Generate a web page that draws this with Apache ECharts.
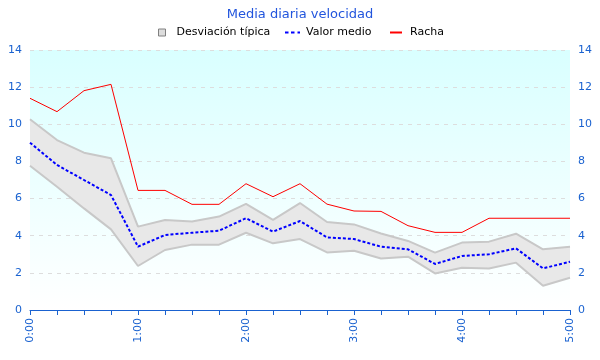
<!DOCTYPE html>
<html><head><meta charset="utf-8">
<script src="https://cdn.jsdelivr.net/npm/echarts@6/dist/echarts.min.js"></script>
<style>html,body{margin:0;padding:0;background:#fff}#c{width:600px;height:360px}</style>
</head><body><div id="c"></div>
<script>
const times = ["0:00","0:15","0:30","0:45","1:00","1:15","1:30","1:45","2:00","2:15","2:30","2:45","3:00","3:15","3:30","3:45","4:00","4:15","4:30","4:45","5:00"];
const upper = [10.27,9.15,8.47,8.17,4.49,4.85,4.76,5.03,5.71,4.85,5.76,4.74,4.61,4.12,3.72,3.09,3.63,3.68,4.11,3.27,3.41];
const mean  = [9.01,7.81,7.0,6.19,3.41,4.04,4.16,4.27,4.94,4.22,4.79,3.91,3.82,3.41,3.27,2.48,2.91,3.0,3.32,2.24,2.60];
const lower = [7.77,6.64,5.47,4.34,2.37,3.23,3.52,3.52,4.16,3.59,3.82,3.10,3.19,2.77,2.87,1.97,2.28,2.23,2.55,1.31,1.74];
const gust  = [11.4,10.68,11.81,12.15,6.44,6.44,5.69,5.69,6.80,6.10,6.80,5.7,5.33,5.31,4.54,4.18,4.18,4.94,4.94,4.94,4.94];
const yTicks = [0,2,4,6,8,10,12,14];

const bandWidth = upper.map((u,i)=>+(u-lower[i]).toFixed(3));
const blue = '#1a62d0';
const font = 'DejaVu Sans';
const chart = echarts.init(document.getElementById('c'));
const yAxisBase = {
  type:'value', min:yTicks[0], max:yTicks[yTicks.length-1], interval:2,
  axisLine:{show:false}, axisTick:{show:false},
  axisLabel:{color:blue, fontFamily:font, fontSize:11}
};
const legendText = {fontFamily:font, fontSize:11, color:'#000'};
chart.setOption({
  animation:false,
  title:{text:'Media diaria velocidad', left:'center', top:3,
    textStyle:{color:'#2255dd', fontFamily:font, fontSize:13, fontWeight:'normal'}},
  legend:[
    {left:158, top:27, padding:0, itemWidth:7, itemHeight:7,
      textStyle:Object.assign({padding:[0,0,0,6]}, legendText),
      data:[{name:'Desviación típica', icon:'rect', itemStyle:{color:'#dddddd', borderColor:'#808080', borderWidth:1}}]},
    {left:285, top:27, padding:0, itemWidth:15, itemHeight:2, textStyle:Object.assign({padding:[0,0,0,1]}, legendText),
      data:[{name:'Valor medio', icon:'path://M0,0 L3.5,0 L3.5,2 L0,2 Z M6,0 L9.5,0 L9.5,2 L6,2 Z M12.5,0 L15,0 L15,2 L12.5,2 Z', itemStyle:{color:'#0000ff'}}]},
    {left:390, top:27, padding:0, itemWidth:12, itemHeight:2, textStyle:Object.assign({padding:[0,0,0,3]}, legendText),
      data:[{name:'Racha', icon:'rect', itemStyle:{color:'#ff0000'}}]}
  ],
  grid:{left:30, right:30, top:50, bottom:50, show:true, borderWidth:0,
    backgroundColor:new echarts.graphic.LinearGradient(0,0,0,1,[{offset:0,color:'#d9ffff'},{offset:1,color:'#ffffff'}])},
  xAxis:{type:'category', data:times, boundaryGap:false,
    axisLine:{lineStyle:{color:blue, width:1}},
    axisTick:{interval:0, length:5, lineStyle:{color:blue}},
    axisLabel:{interval:3, rotate:90, color:blue, fontFamily:font, fontSize:11, margin:8},
    splitLine:{show:false}},
  yAxis:[
    Object.assign({}, yAxisBase, {position:'left', splitLine:{show:true, lineStyle:{color:'#dddddd', type:[4,5]}}}),
    Object.assign({}, yAxisBase, {position:'right', splitLine:{show:false}})
  ],
  series:[
    {name:'lowerBand', type:'line', data:lower, stack:'band', symbol:'none',
      lineStyle:{color:'#c8c8c8', width:2}, z:1, silent:true},
    {name:'Desviación típica', type:'line', data:bandWidth, stack:'band', symbol:'none',
      lineStyle:{color:'#c8c8c8', width:2}, areaStyle:{color:'#e8e8e8', opacity:1}, z:1},
    {name:'Racha', type:'line', data:gust, symbol:'none', lineStyle:{color:'#ff0000', width:1}, z:3},
    {name:'Valor medio', type:'line', data:mean, symbol:'none', lineStyle:{color:'#0000ff', width:2, type:[3,2]}, z:4}
  ]
});
</script></body></html>
